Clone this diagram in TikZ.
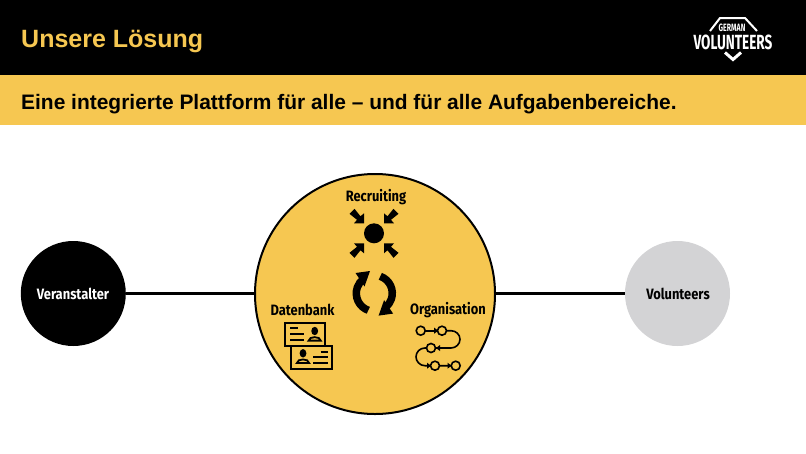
\documentclass[tikz,border=0pt]{standalone}
\usepackage{fontspec}
\setmainfont{Liberation Sans}
\newfontfamily\lblfont[FakeStretch=0.86]{Fira Sans}
\newfontfamily\logofont[FakeStretch=0.66]{Fira Sans}
\definecolor{gvyellow}{HTML}{F6C751}
\definecolor{gvgrey}{HTML}{D3D3D5}
\tikzset{
 lbl/.style={font=\lblfont\bfseries\fontsize{15}{17}\selectfont,text=black,inner sep=0pt},
 ln/.style={line width=2.2pt,black},
 cardline/.style={line width=2pt,black},
 iconring/.style={line width=1.6pt,black,fill=gvyellow},
 iconline/.style={line width=1.6pt,black},
 logotext/.style={text=white,inner sep=0pt,font=\logofont\bfseries},
}
\begin{document}
\begin{tikzpicture}[x=1pt,y=-1pt]
\useasboundingbox (0,0) rectangle (806,453);
\fill[white] (0,0) rectangle (806,453);
\fill[black] (0,0) rectangle (806,75);
\fill[gvyellow] (0,75) rectangle (806,125);
\node[anchor=base west,inner sep=0pt,text=gvyellow,font=\bfseries\fontsize{25}{28}\selectfont] (title) at (21,47) {Unsere Lösung};
\node[anchor=base west,inner sep=0pt,text=black,font=\bfseries\fontsize{20.95}{24}\selectfont] (sub) at (21,109) {Eine integrierte Plattform für alle – und für alle Aufgabenbereiche.};
% logo
\draw[white,line width=2pt,line join=miter] (710,31) -- (720,18) -- (745,18) -- (757,31);
\node[logotext,font=\logofont\bfseries\fontsize{10.6}{11}\selectfont] (logo1) at (732,27.5) {GERMAN};
\node[logotext,font=\logofont\bfseries\fontsize{20.5}{21}\selectfont] (logo2) at (733,42) {VOLUNTEERS};
\draw[white,line width=3pt,line join=miter] (725,52.5) -- (733,59.5) -- (741,52.5);
% main
\node[circle,fill=black,minimum size=105pt,inner sep=0pt] (ver) at (73.3,293.5) {};
\node[circle,fill=gvgrey,minimum size=105pt,inner sep=0pt] (vol) at (677.5,293.5) {};
\node[circle,fill=gvyellow,draw=black,line width=2pt,minimum size=240pt,inner sep=0pt] (mid) at (375,294) {};
\draw[ln] (ver.east) -- (ver.east -| mid.west);
\draw[ln] (vol.west) -- (vol.west -| mid.east);
\node[lbl,text=white] (t1) at (73,293.5) {Veranstalter};
\node[lbl] (t2) at (678,293.5) {Volunteers};
\node[lbl] (t3) at (376,197) {Recruiting};
\node[lbl] (t4) at (302.5,310) {Datenbank};
\node[lbl] (t5) at (448,310) {Organisation};
% recruiting icon
\fill[black] (374,233.3) circle (10);
\foreach \sx/\sy in {-1/-1,1/-1,-1/1,1/1}{
 \begin{scope}[shift={(374,233.3)},xscale=\sx,yscale=\sy]
 \fill[black] (-10,-10) -- (-10,-20) -- (-13.5,-17) -- (-19.5,-24.5) -- (-24.5,-19.5) -- (-17,-13.5) -- (-20,-10) -- cycle;
 \end{scope}}
% cycle icon
\foreach \r in {0,180}{
 \begin{scope}[rotate around={\r:(374.3,293.3)}]
 \draw[black,line width=7.5pt] (368.3,310.3) arc[start angle=109.5,end angle=232,radius=18];
 \fill[black] (355.5,273) -- (370,271) -- (364.5,286.5) -- cycle;
 \end{scope}}
% cards
\draw[cardline] (285,322.5) rectangle (325,345.5);
\draw[cardline,fill=gvyellow] (291.2,346.2) rectangle (332.2,369);
\foreach \a/\b/\c in {290/297.5/328.3, 290/304/334, 290/304/340, 320.7/328.3/351.7, 313.3/328.3/357.3, 313.3/328.3/363.3}{\draw[cardline] (\a,\c) -- (\b,\c);}
\foreach \px/\py in {314.7/331, 303/353.3}{
 \fill[black] (\px,\py) ellipse (3.4 and 4.2);
 \draw[black,line width=1.8pt,fill=gvyellow] ({\px-6},{\py+9.6}) .. controls ({\px-6},{\py+5}) and ({\px+6},{\py+5}) .. ({\px+6},{\py+9.6}) -- cycle;
}
% process icon
\draw[iconline] (442,330.7) -- (451,330.7) .. controls (456,330.7) and (460,334.5) .. (460,339.3) .. controls (460,344) and (456,348) .. (451,348) -- (431,348);
\draw[iconline] (431,348) -- (425,348) .. controls (420,348) and (416,352) .. (416,356.8) .. controls (416,361.5) and (420,365.7) .. (425,365.7) -- (455.7,365.7);
\draw[iconline] (420.7,330.7) -- (442,330.7);
\fill[black] (438.2,330.7) -- (434.2,327.7) -- (434.2,333.7) -- cycle;
\fill[black] (436,348) -- (440,345) -- (440,351) -- cycle;
\fill[black] (431,365.7) -- (427,362.7) -- (427,368.7) -- cycle;
\fill[black] (451.5,365.7) -- (447.5,362.7) -- (447.5,368.7) -- cycle;
\draw[iconring] (420.7,330.7) circle (4.5);
\draw[iconring] (442,330.7) circle (4.5);
\draw[iconring] (431,348) circle (4.5);
\draw[iconring] (435,365.7) circle (4.5);
\draw[iconring] (455.7,365.7) circle (4.5);
\end{tikzpicture}
\end{document}
